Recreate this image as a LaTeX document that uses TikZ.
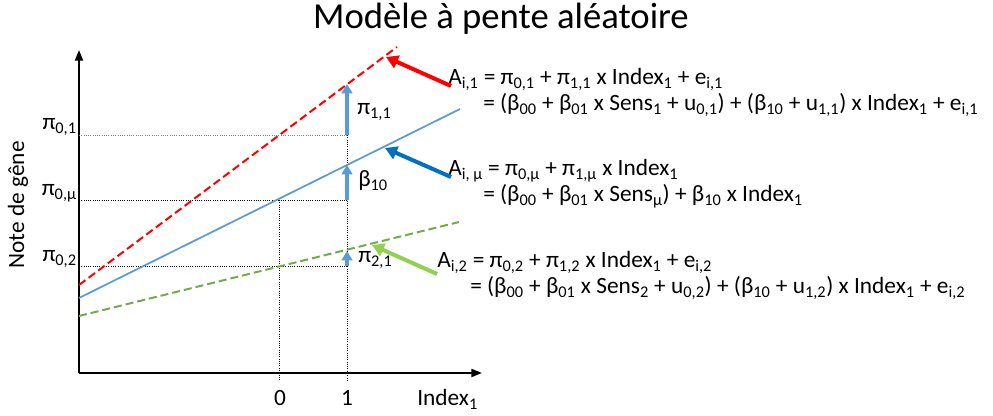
\documentclass[tikz,border=0pt]{standalone}
\usepackage{fontspec}
\setmainfont{Carlito}
\usetikzlibrary{arrows.meta}
\newcommand{\sbs}[1]{\textsubscript{#1}}
\definecolor{redline}{HTML}{FF0000}
\definecolor{blueline}{HTML}{5B9BD5}
\definecolor{bluedark}{HTML}{0070C0}
\definecolor{greenline}{HTML}{70AD47}
\definecolor{greenlight}{HTML}{92D050}

\begin{document}
\begin{tikzpicture}[
  x=0.75pt, y=-0.75pt,
  every node/.style={inner sep=0pt, font=\fontsize{17.5}{21}\selectfont},
  axis/.style={line width=1.5pt, -{Triangle[length=8pt,width=6pt]}},
  guide/.style={densely dotted, line width=0.7pt},
  trend/.style={line width=1.5pt},
  slope/.style={line width=3pt, blueline, -{Triangle[length=7pt,width=8pt]}},
  pointer/.style={line width=3pt, -{Triangle[length=9pt,width=10pt]}},
  eq/.style={anchor=base west}
]
  \useasboundingbox (0,0) rectangle (993,416);

  % axes
  \coordinate (O)    at (79,373);
  \coordinate (ytop) at (79,50);
  \coordinate (xend) at (482,373);
  \draw[axis] (O) -- (ytop);
  \draw[axis] (O) -- (xend);

  % guides
  \coordinate (g1) at (79,135);  \coordinate (h1) at (347,135);
  \coordinate (gm) at (79,200);  \coordinate (hm) at (347,200);
  \coordinate (g2) at (79,266);  \coordinate (h2) at (347,266);
  \coordinate (z0) at (279,200); \coordinate (z0b) at (279,381);
  \coordinate (z1b) at (347,381);
  \draw[guide, gray] (g1) -- (h1);
  \draw[guide] (gm) -- (hm) (g2) -- (h2);
  \draw[guide] (z0) -- (z0b) (h1) -- (z1b);

  % lines
  \coordinate (r0) at (79,285);  \coordinate (r1) at (397,47);
  \coordinate (b0) at (79,298);  \coordinate (b1) at (460,109);
  \coordinate (v0) at (79,316);  \coordinate (v1) at (459,222);
  \draw[trend, redline, dash pattern=on 6pt off 3pt] (r0) -- (r1);
  \draw[trend, blueline, line width=1.3pt] (b0) -- (b1);
  \draw[trend, greenline, dash pattern=on 6pt off 3pt] (v0) -- (v1);

  % slopes at 1
  \coordinate (s1) at (347,84);
  \coordinate (sm) at (347,165);
  \coordinate (s2) at (347,251);
  \draw[slope] (h1) -- (s1);
  \draw[slope] (hm) -- (sm);
  \draw[slope] (h2) -- (s2);

  % labels
  \node[font=\fontsize{27.5}{32}\selectfont, anchor=base] (title) at (501,29) {Modèle à pente aléatoire};
  \node[rotate=90] (ylab) at (18,205) {Note de gêne};
  \node[anchor=base east] (p01) at (77,130) {π\sbs{0,1}};
  \node[anchor=base east] (p0m) at (77,196) {π\sbs{0,μ}};
  \node[anchor=base east] (p02) at (77,262) {π\sbs{0,2}};
  \node[anchor=base west] (p11) at (357,115) {π\sbs{1,1}};
  \node[anchor=base west] (b10) at (358,187) {β\sbs{10}};
  \node[anchor=base west] (p21) at (358,263) {π\sbs{2,1}};
  \node[anchor=base] (n0) at (280,406) {0};
  \node[anchor=base] (n1) at (347,406) {1};
  \node[anchor=base west] (ix) at (417,406) {Index\sbs{1}};

  % equations
  \node[eq] (e1a) at (448,85)  {A\sbs{i,1} = π\sbs{0,1} + π\sbs{1,1} x Index\sbs{1} + e\sbs{i,1}};
  \node[eq] (e1b) at (483,111) {= (β\sbs{00} + β\sbs{01} x Sens\sbs{1} + u\sbs{0,1}) + (β\sbs{10} + u\sbs{1,1}) x Index\sbs{1} + e\sbs{i,1}};
  \node[eq] (e2a) at (448,176) {A\sbs{i, μ} = π\sbs{0,μ} + π\sbs{1,μ} x Index\sbs{1}};
  \node[eq] (e2b) at (483,202) {= (β\sbs{00} + β\sbs{01} x Sens\sbs{μ}) + β\sbs{10} x Index\sbs{1}};
  \node[eq] (e3a) at (437,268) {A\sbs{i,2} = π\sbs{0,2} + π\sbs{1,2} x Index\sbs{1} + e\sbs{i,2}};
  \node[eq] (e3b) at (470,294) {= (β\sbs{00} + β\sbs{01} x Sens\sbs{2} + u\sbs{0,2}) + (β\sbs{10} + u\sbs{1,2}) x Index\sbs{1} + e\sbs{i,2}};

  % pointers
  \coordinate (t1) at (451,86);  \coordinate (a1) at (386,57);
  \coordinate (t2) at (451,177); \coordinate (a2) at (385,148);
  \coordinate (t3) at (437,274); \coordinate (a3) at (372,245);
  \draw[pointer, redline] (t1) -- (a1);
  \draw[pointer, bluedark] (t2) -- (a2);
  \draw[pointer, greenlight] (t3) -- (a3);
\end{tikzpicture}
\end{document}
